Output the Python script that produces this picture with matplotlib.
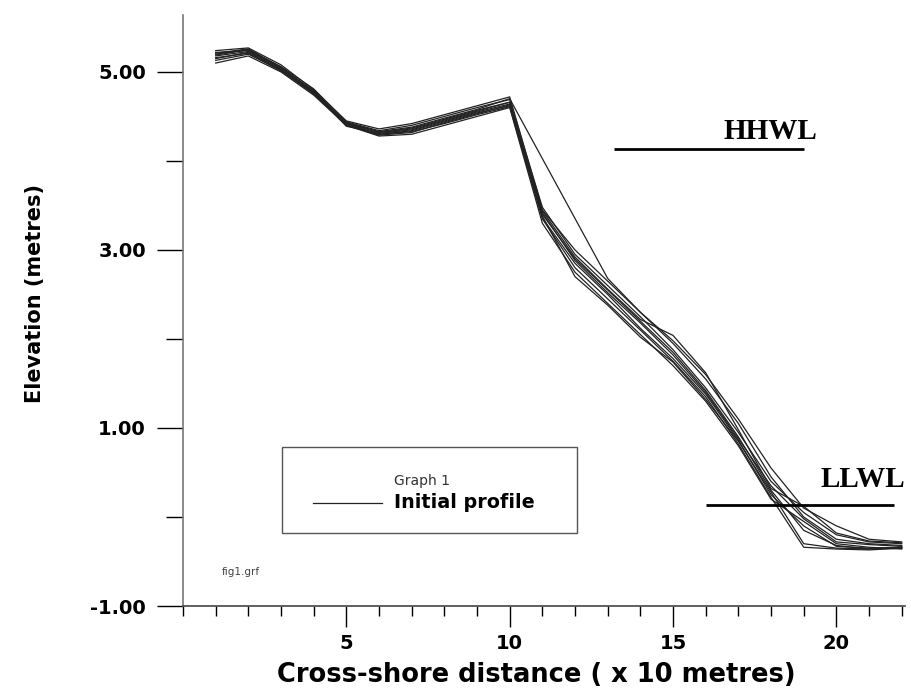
import matplotlib
matplotlib.use("Agg")
import matplotlib.pyplot as plt
from matplotlib.ticker import MultipleLocator, FixedLocator, FormatStrFormatter
from matplotlib.patches import Rectangle
from matplotlib.lines import Line2D

# stations along the profile (x 10 m)
stations = list(range(1, 23))

# surveyed elevations (m), one list per survey
profiles = [
    [5.20, 5.25, 5.05, 4.78, 4.42, 4.32, 4.36, 4.46, 4.56, 4.66, 3.40, 2.90, 2.55, 2.20, 1.85, 1.42, 0.90, 0.30, -0.15, -0.32, -0.36, -0.34],
    [5.15, 5.22, 5.02, 4.76, 4.40, 4.30, 4.34, 4.44, 4.54, 4.62, 3.35, 2.80, 2.45, 2.10, 1.75, 1.35, 0.82, 0.22, -0.34, -0.36, -0.37, -0.35],
    [5.24, 5.27, 5.08, 4.80, 4.45, 4.36, 4.42, 4.52, 4.62, 4.72, 3.45, 3.00, 2.65, 2.30, 1.98, 1.60, 1.10, 0.55, 0.10, -0.10, -0.25, -0.28],
    [5.10, 5.18, 5.00, 4.74, 4.40, 4.28, 4.30, 4.40, 4.50, 4.60, 3.30, 2.75, 2.40, 2.05, 1.70, 1.30, 0.80, 0.20, -0.05, -0.30, -0.34, -0.36],
    [5.22, 5.24, 5.04, 4.79, 4.41, 4.29, 4.32, 4.43, 4.53, 4.63, 3.42, 2.88, 2.52, 2.18, 1.82, 1.40, 0.88, 0.35, -0.02, -0.28, -0.31, -0.33],
    [5.16, 5.21, 5.01, 4.77, 4.39, 4.31, 4.35, 4.45, 4.55, 4.64, 3.38, 2.70, 2.38, 2.02, 1.74, 1.32, 0.85, 0.28, -0.30, -0.35, -0.36, -0.35],
    [5.19, 5.25, 5.06, 4.81, 4.44, 4.34, 4.40, 4.50, 4.60, 4.69, 3.48, 2.95, 2.60, 2.25, 1.88, 1.45, 0.95, 0.40, 0.05, -0.20, -0.28, -0.30],
    [5.13, 5.20, 5.02, 4.75, 4.42, 4.30, 4.33, 4.42, 4.52, 4.61, 3.36, 2.85, 2.50, 2.12, 1.78, 1.38, 0.86, 0.25, -0.10, -0.33, -0.35, -0.34],
    [5.21, 5.26, 5.05, 4.78, 4.43, 4.32, 4.37, 4.47, 4.57, 4.66, 3.44, 2.92, 2.56, 2.22, 2.04, 1.62, 0.98, 0.32, 0.12, -0.18, -0.27, -0.29],
]

# one survey has no readings at stations 11 and 12
sparse_x = [1, 2, 3, 4, 5, 6, 7, 8, 9, 10, 13, 14, 15, 16, 17, 18, 19, 20, 21, 22]
sparse_y = [5.18, 5.23, 5.03, 4.77, 4.43, 4.33, 4.38, 4.48, 4.58, 4.70, 2.68, 2.30, 1.95, 1.55, 1.05, 0.45, 0.00, -0.25, -0.30, -0.32]

# water levels
hhwl_x = [13.2, 19.0]
hhwl_y = [4.13, 4.13]
llwl_x = [16.0, 21.75]
llwl_y = [0.13, 0.13]

fig = plt.figure(figsize=(9.12, 6.95), dpi=100)
ax = fig.add_axes([183 / 912, 1 - 606 / 695, 722 / 912, 591 / 695])

for p in profiles:
    ax.plot(stations, p, color="#222222", lw=0.9)
ax.plot(sparse_x, sparse_y, color="#222222", lw=0.9)

ax.plot(hhwl_x, hhwl_y, color="black", lw=2.0, solid_capstyle="butt")
ax.plot(llwl_x, llwl_y, color="black", lw=2.0, solid_capstyle="butt")
ax.text(17.98, 4.33, "HHWL", family="Liberation Serif", weight="bold",
        fontsize=21, ha="center", va="center")
ax.text(20.8, 0.42, "LLWL", family="Liberation Serif", weight="bold",
        fontsize=21, ha="center", va="center")

ax.set_xlim(0, 22.1)
ax.set_ylim(-1, 5.64)

ax.spines["top"].set_visible(False)
ax.spines["right"].set_visible(False)
ax.spines["left"].set_color("#777777")
ax.spines["bottom"].set_color("#444444")
ax.spines["left"].set_linewidth(1.2)
ax.spines["bottom"].set_linewidth(1.2)

ax.xaxis.set_major_locator(FixedLocator([5, 10, 15, 20]))
ax.xaxis.set_minor_locator(MultipleLocator(1))
ax.yaxis.set_major_locator(FixedLocator([-1, 1, 3, 5]))
ax.yaxis.set_minor_locator(FixedLocator([0, 2, 4]))
ax.yaxis.set_major_formatter(FormatStrFormatter("%.2f"))

ax.tick_params(axis="x", which="major", direction="out", length=15, width=1, pad=5)
ax.tick_params(axis="x", which="minor", direction="out", length=7, width=1)
ax.tick_params(axis="y", which="major", direction="out", length=18.7, width=1, pad=8)
ax.tick_params(axis="y", which="minor", direction="out", length=12, width=1)

for lab in ax.get_xticklabels() + ax.get_yticklabels():
    lab.set_fontfamily("DejaVu Sans")
    lab.set_fontweight("bold")
    lab.set_fontsize(14)

ax.set_xlabel("Cross-shore distance ( x 10 metres)", fontsize=18.5,
              fontweight="bold", labelpad=8)
ax.xaxis.set_label_coords(0.49, -0.095)
ax.set_ylabel("Elevation (metres)", fontsize=15, fontweight="bold")
ax.yaxis.set_label_coords(-0.191, 0.528)

# legend box drawn by hand, like the original Grapher layout
ax.add_patch(Rectangle((0.137, 0.1235), 0.409, 0.1455, transform=ax.transAxes,
                       fill=False, edgecolor="#555555", lw=1.0))
ax.text(0.292, 0.2115, "Graph 1", transform=ax.transAxes, fontsize=10,
        color="#333333", ha="left", va="center")
ax.add_line(Line2D([0.180, 0.2756], [0.1743, 0.1743], transform=ax.transAxes,
                   color="#222222", lw=0.9))
ax.text(0.292, 0.1743, "Initial profile", transform=ax.transAxes, fontsize=13.8,
        fontweight="bold", ha="left", va="center")
ax.text(0.054, 0.0575, "fig1.grf", transform=ax.transAxes, fontsize=7.5,
        color="#444444", ha="left", va="center")

fig.savefig("out.png", dpi=100)
